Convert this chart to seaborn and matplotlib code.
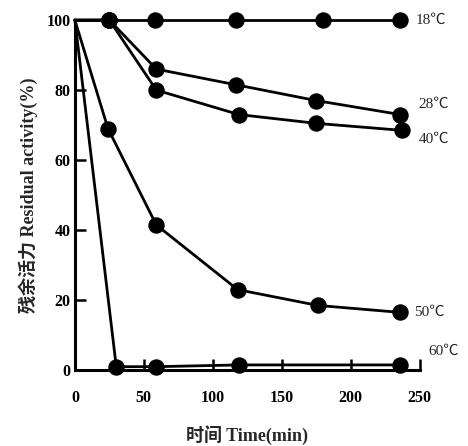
import matplotlib
matplotlib.use("Agg")
import matplotlib.pyplot as plt
import seaborn as sns
import pandas as pd

sns.set_theme(style="white")
plt.rcParams['font.family'] = ['Liberation Serif', 'Noto Sans CJK SC', 'DejaVu Sans']

# data
t18 = [0, 25, 58, 117, 180, 236]
v18 = [100, 100, 100, 100, 100, 100]
t28 = [0, 25, 59, 117, 175, 236]
v28 = [100, 100, 86, 81.5, 77, 73]
t40 = [0, 25, 59, 119, 175, 237]
v40 = [100, 100, 80, 73, 70.5, 68.5]
t50 = [0, 24, 59, 118, 176, 236]
v50 = [100, 69, 41.5, 23, 18.5, 16.5]
t60 = [0, 30, 59, 119, 236]
v60 = [100, 1, 1, 1.5, 1.5]
series_names = ["18℃", "28℃", "40℃", "50℃", "60℃"]
x_ticks = [0, 50, 100, 150, 200, 250]
y_ticks = [0, 20, 40, 60, 80, 100]

frames = []
for name, t, v in zip(series_names, [t18, t28, t40, t50, t60], [v18, v28, v40, v50, v60]):
    frames.append(pd.DataFrame({"time": t, "act": v, "temp": name}))
df = pd.concat(frames, ignore_index=True)
pts = df[df["time"] > 0]

fig = plt.figure(figsize=(4.68, 4.46), dpi=100)
ax = fig.add_axes([0.160, 0.170, 0.737, 0.785])

for name in series_names:
    sub = df[df["temp"] == name]
    sns.lineplot(data=sub, x="time", y="act", ax=ax, color="black", lw=2.0,
                 estimator=None, sort=False, legend=False)
sns.scatterplot(data=pts, x="time", y="act", ax=ax, color="black", s=140,
                edgecolor="black", linewidth=0, legend=False, clip_on=False, zorder=5)
for line in ax.lines:
    line.set_clip_on(False)

ax.set_xlim(0, 250)
ax.set_ylim(0, 100)
ax.set_xticks(x_ticks)
ax.set_yticks(y_ticks)
ax.set_xticklabels([str(x) for x in x_ticks], fontsize=11.5, fontweight="bold")
ax.set_yticklabels([str(y) for y in y_ticks], fontsize=11.5, fontweight="bold")
ax.tick_params(axis="both", direction="in", length=8, width=1.8, colors="black",
               bottom=True, left=True)
ax.tick_params(axis="x", pad=14)
ax.tick_params(axis="y", pad=3)
for s in ["top", "right"]:
    ax.spines[s].set_visible(False)
for s in ["left", "bottom"]:
    ax.spines[s].set_color("black")
    ax.spines[s].set_linewidth(2.2)

lab_fam = ['Liberation Serif', 'Noto Sans CJK SC', 'DejaVu Sans']
ax.set_xlabel("时间 Time(min)", fontsize=13, fontweight="bold",
              family=lab_fam, labelpad=14)
ax.set_ylabel("残余活力 Residual activity(%)", fontsize=13, fontweight="bold",
              family=lab_fam, labelpad=6)

label_pos = {"18℃": (247, 100), "28℃": (249, 76), "40℃": (249, 66),
             "50℃": (246, 16.5), "60℃": (256, 5.5)}
for name, (x, y) in label_pos.items():
    ax.text(x, y, name, fontsize=11, va="center", ha="left",
            family=lab_fam, clip_on=False)

fig.savefig("out.png", dpi=100, facecolor="white")
